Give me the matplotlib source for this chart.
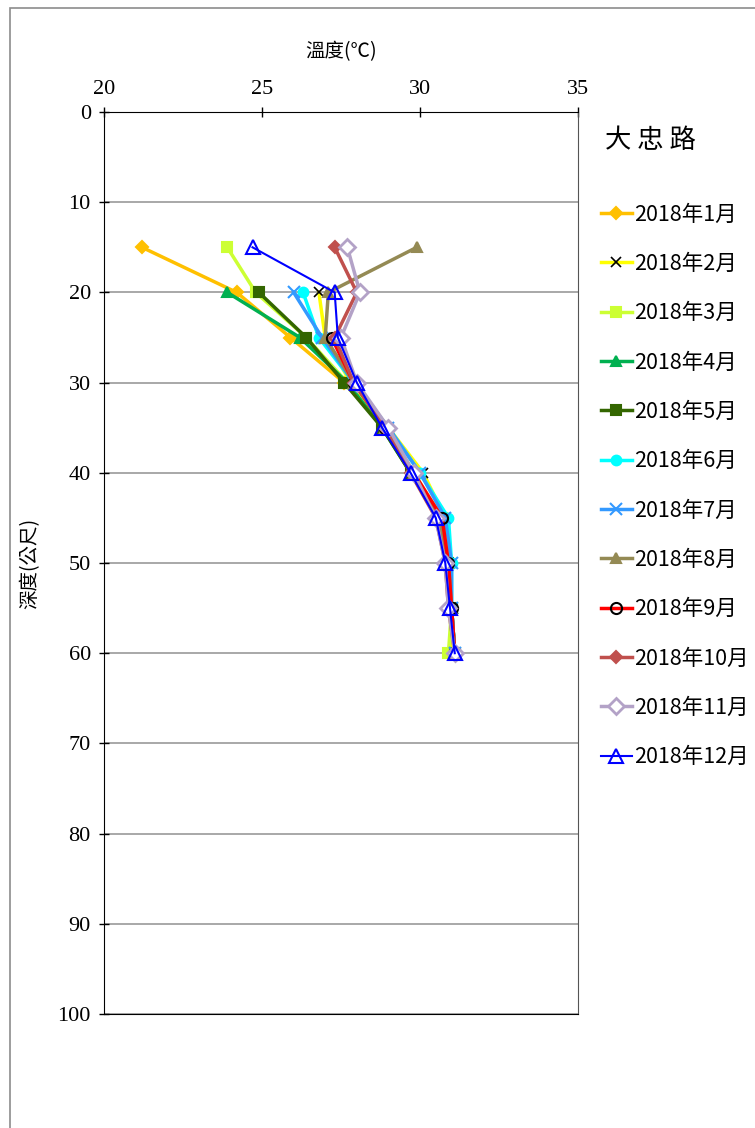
import numpy as np
import matplotlib
matplotlib.use('agg')
import matplotlib.pyplot as plt
from matplotlib.patches import Rectangle

nan = np.nan
depth = [15, 20, 25, 30, 35, 40, 45, 50, 55, 60]
labels = ['2018年%d月' % m for m in range(1, 13)]

jan = [21.2, 24.2, 25.9, 27.6, 28.9, 29.8, 30.6, 30.9, 31.0, 31.1]
feb = [nan, 26.8, 27.0, 27.8, 29.0, 30.1, 30.8, 30.9, 31.0, 31.0]
mar = [23.9, 24.8, 26.4, 27.7, 28.9, 29.8, 30.7, 30.9, 31.0, 30.9]
apr = [nan, 23.9, 26.2, 27.7, 28.8, 29.7, 30.6, 30.9, 31.0, 31.1]
may = [nan, 24.9, 26.4, 27.6, 28.8, 29.7, 30.6, 30.9, 31.0, 31.1]
jun = [nan, 26.3, 26.8, 27.9, 29.0, 30.0, 30.9, 31.0, 31.0, 31.1]
jul = [nan, 26.0, 26.9, 27.9, 29.0, 30.0, 30.8, 31.0, 31.0, 31.1]
aug = [29.9, 27.1, 27.0, 27.9, 28.9, 29.8, 30.6, 30.9, 31.0, 31.1]
sep = [nan, nan, 27.2, 27.9, 28.9, 29.8, 30.7, 30.9, 31.0, 31.1]
oct_ = [27.3, 28.0, 27.3, 27.9, 28.9, 29.7, 30.5, 30.8, 30.9, 31.1]
nov = [27.7, 28.1, 27.5, 28.0, 29.0, 29.8, 30.5, 30.8, 30.9, 31.1]
dec = [24.7, 27.3, 27.4, 28.0, 28.8, 29.7, 30.5, 30.8, 30.95, 31.1]
series = [jan, feb, mar, apr, may, jun, jul, aug, sep, oct_, nov, dec]

colors = ['#FFC000', '#FFFF00', '#CCFF33', '#00B050', '#336600', '#00FFFF',
          '#3399FF', '#948A54', '#FF0000', '#C0504D', '#B3A2C7', '#0000FF']
markers = ['D', 'x', 's', '^', 's', 'o', 'x', '^', 'o', 'D', 'D', '^']

fig = plt.figure(figsize=(7.55, 11.28), dpi=100)
fig.patches.append(Rectangle((10 / 755, -0.1), 1.2, 1 - 8 / 1128 + 0.1,
                             transform=fig.transFigure, fill=False,
                             edgecolor='#8c8c8c', linewidth=1.2))
ax = fig.add_axes([104 / 755, 1 - 1014 / 1128, 474 / 755, 902 / 1128])

for i, (vals, lab) in enumerate(zip(series, labels)):
    c = colors[i]
    kw = dict(color=c, lw=2.5, marker=markers[i], ms=7, mfc=c, mec=c, mew=1.5, label=lab)
    if i == 1:
        kw.update(mec='black', mew=1.2, ms=7)
    if i == 6:
        kw.update(mew=1.5, ms=8)
    if i == 8:
        kw.update(mfc='none', mec='black', ms=8, lw=2.5)
    if i == 10:
        kw.update(mfc='white', ms=8, mew=2)
    if i == 11:
        kw.update(mfc='none', lw=1.5, ms=10, mew=1.5)
    if i in (0, 9):
        kw.update(ms=6)
    ax.plot(vals, depth, **kw)

ax.set_xlim(20, 35)
ax.set_ylim(100, 0)
ax.set_xticks([20, 25, 30, 35])
ax.set_yticks(range(0, 101, 10))
ax.xaxis.tick_top()
ax.xaxis.set_label_position('top')
ax.yaxis.grid(True, color='#999999', lw=1.2)
ax.set_axisbelow(True)
serif = ['Liberation Serif', 'Noto Sans CJK TC']
ax.tick_params(axis='both', direction='inout', length=7, width=1, labelsize=16, pad=6)
for t in ax.get_xticklabels() + ax.get_yticklabels():
    t.set_family(serif)
for s in ['top', 'left', 'bottom']:
    ax.spines[s].set_color('black')
ax.spines['right'].set_color('#555555')

ax.set_xlabel('溫度(℃)', family=['Noto Sans CJK TC', 'DejaVu Sans'], fontsize=14, labelpad=16)
ax.set_ylabel('深度(公尺)', family=['Noto Sans CJK TC', 'DejaVu Sans'], fontsize=14, labelpad=12)

fig.text(605 / 755, 1 - 140 / 1128, '大 忠 路', family=['Noto Sans CJK TC'], fontsize=19,
         va='center', ha='left')
leg = fig.legend(loc='upper left', bbox_to_anchor=(592 / 755, 1 - 195 / 1128),
                 frameon=False, prop={'family': ['Noto Sans CJK TC'], 'size': 15.5},
                 handlelength=1.45, handletextpad=0.1, labelspacing=1.27, borderaxespad=0)
fig.savefig('out.png', dpi=100)
